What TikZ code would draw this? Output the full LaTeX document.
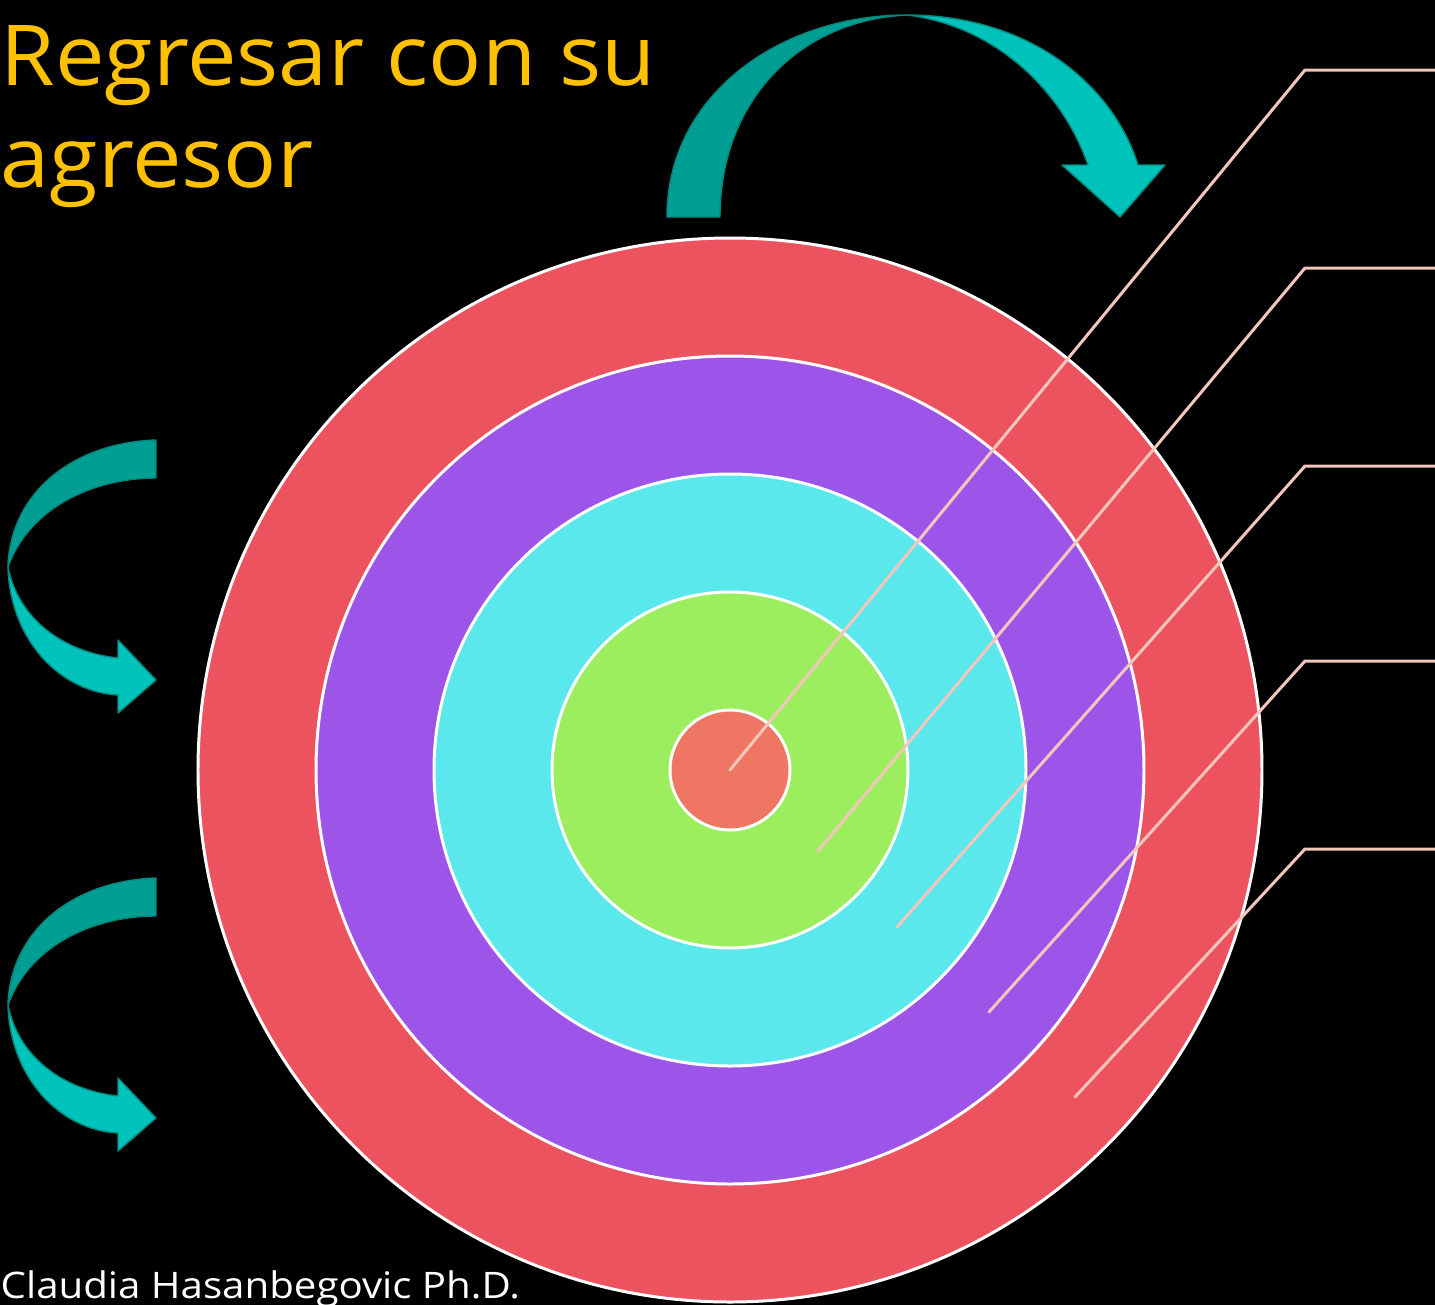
\documentclass[tikz,border=0pt]{standalone}
\usepackage{fontspec}
\setmainfont{Open Sans}
\definecolor{ringred}{HTML}{EC535F}
\definecolor{ringpurple}{HTML}{9D55E9}
\definecolor{ringcyan}{HTML}{5BE8EC}
\definecolor{ringgreen}{HTML}{9DEE5E}
\definecolor{ringcore}{HTML}{EE7663}
\definecolor{leader}{HTML}{F3C6BC}
\definecolor{tealdark}{HTML}{009E93}
\definecolor{teallight}{HTML}{00C4BB}
\definecolor{tealedge}{HTML}{00897F}
\definecolor{titlegold}{HTML}{FFC000}
\begin{document}
\begin{tikzpicture}[x=0.01cm,y=-0.01cm,
  ring/.style={draw=white,line width=0.85pt},
  leaderline/.style={draw=leader,line width=0.85pt,line cap=round,line join=round},
  backface/.style={fill=tealdark,draw=tealedge,line width=0.4pt,line join=round},
  frontface/.style={fill=teallight,draw=tealedge,line width=0.4pt,line join=round},
  titletext/.style={text=titlegold,inner sep=0pt,anchor=base west,font=\fontsize{23.9}{28}\selectfont},
  footertext/.style={text=white,inner sep=0pt,anchor=base west,font=\fontsize{10.4}{12}\selectfont}]
\fill[black] (0,0) rectangle (1435,1305);
\useasboundingbox (0,0) rectangle (1435,1305);

% concentric rings
\coordinate (c) at (730,770);
\fill[ringred,ring] (c) circle [radius=532];
\fill[ringpurple,ring] (c) circle [radius=414];
\fill[ringcyan,ring] (c) circle [radius=296];
\fill[ringgreen,ring] (c) circle [radius=178];
\fill[ringcore,ring] (c) circle [radius=60];

% leader lines
\coordinate (s1) at (730,770);  \coordinate (k1) at (1305,70);  \coordinate (e1) at (1435,70);
\coordinate (s2) at (818,851);  \coordinate (k2) at (1305,268); \coordinate (e2) at (1435,268);
\coordinate (s3) at (897,927);  \coordinate (k3) at (1305,466); \coordinate (e3) at (1435,466);
\coordinate (s4) at (989,1012); \coordinate (k4) at (1305,661); \coordinate (e4) at (1435,661);
\coordinate (s5) at (1075,1097);\coordinate (k5) at (1305,849); \coordinate (e5) at (1435,849);
\foreach \i in {1,...,5} \draw[leaderline] (s\i) -- (k\i) -- (e\i);

% top curved arrow
\draw[backface] (667,217) .. controls (667,95) and (780,15) .. (907,15)
  .. controls (800,20) and (720,100) .. (720,217) -- cycle;
\draw[frontface] (907,15) .. controls (1030,15) and (1113,85) .. (1138,165)
  -- (1165,165) -- (1120,217) -- (1062,165) -- (1088,165)
  .. controls (1060,85) and (990,25) .. (907,15) -- cycle;

% left curved arrows
\foreach \dy/\nm in {0/a,438/b}{
  \begin{scope}[yshift=-\dy*0.01cm]
  \draw[backface] (156,440) .. controls (70,443) and (10,495) .. (8,567)
    .. controls (28,510) and (90,478) .. (156,478) -- cycle;
  \draw[frontface] (8,567) .. controls (10,640) and (60,692) .. (118,695)
    -- (118,713) -- (156,680) -- (118,640) -- (118,658)
    .. controls (62,652) and (18,618) .. (8,567) -- cycle;
  \end{scope}
}

% texts
\node[titletext] (t1) at (0,85) {\scalebox{1.05}[1]{Regresar con su}};
\node[titletext] (t2) at (0,187) {\scalebox{1.05}[1]{agresor}};
\node[footertext] (ft) at (0,1298) {\scalebox{1.1}[1]{Claudia Hasanbegovic Ph.D.}};
\end{tikzpicture}
\end{document}
